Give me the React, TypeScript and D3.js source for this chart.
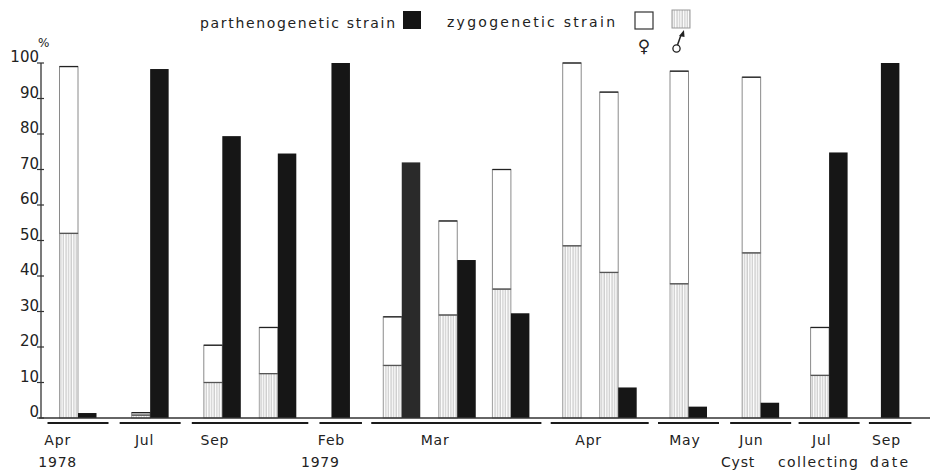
import React from 'react';
import * as d3 from 'd3';

// ---- data ----
const sampleIds = ['Apr78', 'Jul78', 'Sep78a', 'Sep78b', 'Feb79', 'Mar79a', 'Mar79b', 'Mar79c', 'Apr79a', 'Apr79b', 'May79', 'Jun79', 'Jul79', 'Sep79'];
// position of each sample on the collecting-date axis (slot units)
const sampleSlot = [1.0, 4.9, 8.8, 11.8, 14.7, 18.5, 21.5, 24.4, 28.2, 30.2, 34.0, 37.9, 41.6, 44.4];
const zygoTotal = [99, 1.5, 20.5, 25.5, 0, 28.5, 55.5, 70, 100, 91.8, 97.7, 96, 25.5, 0];
const zygoMale = [52, 0.8, 10, 12.5, 0, 14.8, 29, 36.3, 48.5, 41, 37.8, 46.5, 12, 0];
const partheno = [1.4, 98.3, 79.4, 74.5, 100, 72, 44.5, 29.5, 0, 8.6, 3.2, 4.3, 74.8, 100];
const sampleMonth = [0, 1, 2, 2, 3, 4, 4, 4, 5, 5, 6, 7, 8, 9];
const months = ['Apr', 'Jul', 'Sep', 'Feb', 'Mar', 'Apr', 'May', 'Jun', 'Jul', 'Sep'];
const monthLabelSlot = [0.9, 5.6, 9.4, 15.7, 21.3, 29.6, 34.8, 38.4, 42.2, 45.7];
const years = ['1978', '1979'];
const yearSlot = [0.9, 15.1];
const yTicks = [0, 10, 20, 30, 40, 50, 60, 70, 80, 90, 100];

const FONT = '"DejaVu Sans", sans-serif';

export default function App() {
  const W = 931, H = 474;
  const y = d3.scaleLinear().domain([0, 100]).range([418, 63]);
  const x = d3.scaleLinear().domain([0, 48]).range([41, 929]);
  const bw = x(1) - x(0);
  const base = y(0);

  // underline extents per month
  const ext: [number, number][] = months.map(() => [Infinity, -Infinity]);
  sampleIds.forEach((_, i) => {
    const m = sampleMonth[i];
    const l = x(sampleSlot[i]);
    if (zygoTotal[i] > 0) { ext[m][0] = Math.min(ext[m][0], l); ext[m][1] = Math.max(ext[m][1], l + bw); }
    if (partheno[i] > 0) { ext[m][0] = Math.min(ext[m][0], l + bw); ext[m][1] = Math.max(ext[m][1], l + 2 * bw); }
  });

  return (
    <svg width={W} height={H} style={{ position: 'absolute', left: 0, top: 0, background: '#fff' }} fontFamily={FONT}>
      <defs>
        <pattern id="hatch" width="2.6" height="10" patternUnits="userSpaceOnUse">
          <rect width="2.6" height="10" fill="#fff" />
          <line x1="1" y1="0" x2="1" y2="10" stroke="#bdbdbd" strokeWidth="1" />
        </pattern>
      </defs>

      {/* legend */}
      <text x={200} y={28} fontSize={14} fill="#222" textLength={195} lengthAdjust="spacing">parthenogenetic  strain</text>
      <rect x={403} y={11} width={18} height={18} fill="#151515" />
      <text x={447} y={27} fontSize={14} fill="#222" textLength={168} lengthAdjust="spacing">zygogenetic  strain</text>
      <rect x={635} y={12} width={18} height={17} fill="#fff" stroke="#333" strokeWidth={1.2} />
      <rect x={672} y={10} width={18} height={18} fill="url(#hatch)" stroke="#999" strokeWidth={1} />
      <text x={644} y={52} fontSize={17} textAnchor="middle" fill="#222">♀</text>
      <circle cx={676.5} cy={48.5} r={3.6} fill="none" stroke="#222" strokeWidth={1.3} />
      <line x1={677.5} y1={45} x2={681} y2={35} stroke="#222" strokeWidth={1.5} />
      <path d="M679,36 L684,30 L684.5,37 Z" fill="#222" />

      {/* y axis */}
      <line x1={41} x2={41} y1={y(100)} y2={base} stroke="#333" strokeWidth={1.3} />
      {yTicks.map(t => (
        <g key={t}>
          <line x1={37} x2={44} y1={y(t)} y2={y(t)} stroke="#333" strokeWidth={1.2} />
          <text x={39} y={y(t) - 1} fontSize={15} textAnchor="end" fill="#222">{t}</text>
        </g>
      ))}
      <text x={38} y={47} fontSize={12} fill="#222">%</text>

      {/* bars */}
      {sampleIds.map((id, i) => {
        const l = x(sampleSlot[i]);
        return (
          <g key={id}>
            {zygoTotal[i] > 0 && (
              <g>
                <rect x={l} y={y(zygoTotal[i])} width={bw} height={y(zygoMale[i]) - y(zygoTotal[i])} fill="#fff" stroke="#8a8a8a" strokeWidth={1} />
                <rect x={l} y={y(zygoMale[i])} width={bw} height={base - y(zygoMale[i])} fill="url(#hatch)" stroke="#a0a0a0" strokeWidth={1} />
                <line x1={l} x2={l + bw} y1={y(zygoTotal[i])} y2={y(zygoTotal[i])} stroke="#222" strokeWidth={1.3} />
                <line x1={l} x2={l + bw} y1={y(zygoMale[i])} y2={y(zygoMale[i])} stroke="#555" strokeWidth={1.3} />
              </g>
            )}
            {partheno[i] > 0 && (
              <rect x={l + bw} y={y(partheno[i])} width={bw} height={base - y(partheno[i])} fill={id === 'Mar79a' ? '#2a2a2a' : '#161616'} />
            )}
          </g>
        );
      })}

      {/* baseline */}
      <line x1={39} x2={930} y1={base} y2={base} stroke="#333" strokeWidth={1.4} />

      {/* month underlines and labels */}
      {months.map((m, k) => (
        <g key={k}>
          <line x1={ext[k][0] - 12} x2={ext[k][1] + 12} y1={423} y2={423} stroke="#1a1a1a" strokeWidth={2.2} />
          <text x={x(monthLabelSlot[k])} y={445} fontSize={14} textAnchor="middle" fill="#222" letterSpacing={0.8}>{m}</text>
        </g>
      ))}
      {years.map((yr, k) => (
        <text key={yr} x={x(yearSlot[k])} y={467} fontSize={14} textAnchor="middle" fill="#222" letterSpacing={0.8}>{yr}</text>
      ))}
      <text x={721} y={467} fontSize={14} fill="#222" letterSpacing={0.8}>Cyst</text>
      <text x={778} y={467} fontSize={14} fill="#222" textLength={80} lengthAdjust="spacing">collecting</text>
      <text x={870} y={467} fontSize={14} fill="#222" textLength={38} lengthAdjust="spacing">date</text>
    </svg>
  );
}
